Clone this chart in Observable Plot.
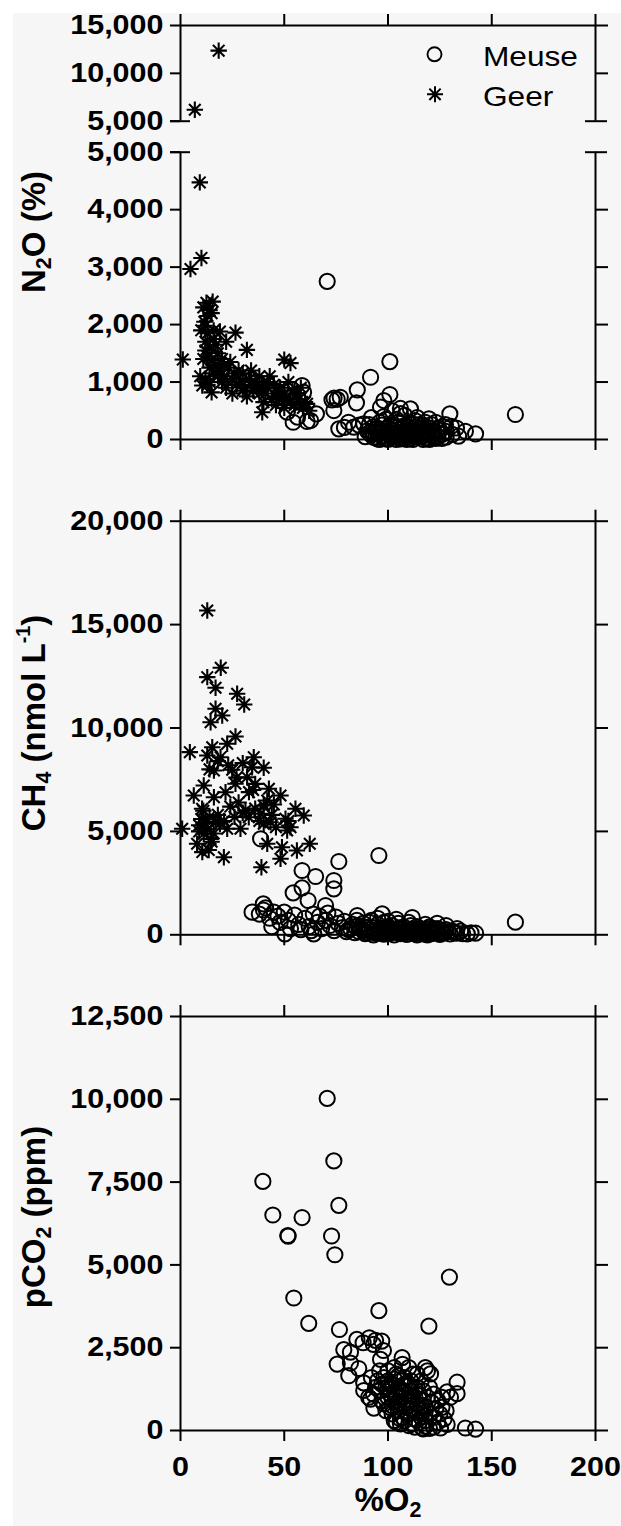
<!DOCTYPE html>
<html><head><meta charset="utf-8">
<script src="https://cdn.jsdelivr.net/npm/d3@7"></script>
<script src="https://cdn.jsdelivr.net/npm/@observablehq/plot@0.6"></script>
<style>
body{margin:0;background:#fff;}
#root{position:relative;width:621px;height:1526px;overflow:hidden;background:#fff;font-family:"Liberation Sans",Arial,sans-serif;color:#000;}
#bg{position:absolute;left:13px;top:13px;right:0;bottom:0;background:#f6f6f6;}
.panel{position:absolute;left:0;}
.title{position:absolute;font-weight:bold;font-size:33px;white-space:nowrap;line-height:1;}
.rot{transform:translate(-50%,-50%) rotate(-90deg);}
.hor{transform:translate(-50%,-50%);}
.sub{font-size:0.65em;position:relative;top:0.3em;}
.sup{font-size:0.6em;position:relative;top:-0.75em;}
.leg{position:absolute;font-size:28px;white-space:nowrap;transform-origin:0 0;transform:scaleX(1.13);line-height:1;}
</style>
</head><body>
<div id="root"><div id="bg"></div></div>
<script>
// ---------- data (x = %O2) ----------
const xTicks = [0, 50, 100, 150, 200];
const n2oTicksHigh = [5000, 10000, 15000];
const n2oTicksLow = [0, 1000, 2000, 3000, 4000, 5000];
const ch4Ticks = [0, 5000, 10000, 15000, 20000];
const co2Ticks = [0, 2500, 5000, 7500, 10000, 12500];
const legendLabels = ["Meuse", "Geer"];

const n2oGeerHigh = [[18.4,12370],[6.9,6190]];
const n2oGeer = [[9.3,4474],[4.8,2968],[10.1,3160],[1.1,1391],
[11,2300],[12.5,2380],[14,2250],[15.5,2400],[13,2150],[11.5,2050],[15,2200],[12,1980],
[26.5,1860],[32,1560],[50,1390],[53,1330],[39.4,475],[61,620],
[10,1900],[13,1850],[16,1900],[19,1880],[22,1700],[12,1700],[14,1600],[17,1650],[11,1400],[13,1450],[15,1380],[18,1500],[20,1400],
[9.5,1100],[12,1050],[14,1000],[16,1150],[19,1200],[21,1100],[23,1250],[10.5,940],[15,820],[13,950],[25,1050],[27,950],[29,1000],
[31,900],[33,1050],[35,850],[37,950],[39,900],[41,800],[43,1100],[45,950],[47,850],[49,750],[51,700],[53,650],[55,600],[57,700],
[59,550],[30,1150],[34,1200],[38,1100],[42,1000],[44,700],[46,600],[48,900],[52,1000],[56,800],[60,650],[24,1350],[28,1200],
[36,1000],[40,650],[50,550],[54,850],[62,500],[58,900],[25,800],[32,750],[20,1000],[17,1300],[22,900],
[14,1250],[18,1100],[21,1300],[26,1150],[30,850],[34,950],[38,800],[42,900],[46,750],[50,800],[16,1750],[12,1550]];
const n2oMeuse = [[70.7,2753],[100.9,1356],[91.6,1083],[85.2,864],[100.9,783],[84.8,638],[98,678],[96.4,562],[74,720],[75.5,700],
[77,735],[73,690],[73.9,504],[58.6,939],[59.3,823],[65.5,447],[54.3,300],[61,313],[51.4,475],[56.4,388],[62.7,330],[129.8,447],
[161.4,435],[142.2,99],[137.3,144],[110.8,534],[106,540],[119.7,360],[127.7,261],[130.5,230],[133,200],[76.3,186],[79,210],
[83.5,214],[86,250],[88.3,273],[81,300],
[90,150],[92,80],[93,220],[94,30],[95,120],[96,300],[97,60],[98,180],[99,20],[100,100],[101,250],[102,40],[103,160],[104,350],
[105,90],[106,10],[107,200],[108,130],[109,60],[110,280],[111,20],[112,150],[113,330],[114,80],[115,180],[116,40],[117,250],
[118,110],[119,20],[120,200],[121,70],[122,140],[123,300],[124,50],[125,160],[126,90],[127,220],[128,40],[92,380],[96,0],[100,0],
[104,0],[108,420],[112,0],[98,400],[114,380],[118,300],[106,450],[102,500],[120,0],[124,120],[89,50],[91,260],[103,60],[107,30],
[111,100],[115,260],[119,150],[123,20],[110,170],[105,220],[97,140],[93,100],[95,10],[99,350],[116,120],[113,50],[109,0],[117,0],
[121,260],[126,20],[131,90],[134,60],[128,140],
[94,180],[96,100],[98,60],[100,200],[101,130],[102,80],[103,230],[104,110],[105,30],[106,170],[107,90],[108,240],[109,150],
[110,60],[111,190],[112,90],[113,210],[114,140],[115,70],[116,200],[117,110],[118,30],[119,80],[120,120],[122,40],[124,200],
[99,120],[97,250],[95,200],[93,40],[91,120],[105,300],[108,20],[112,270]];

const ch4Geer = [[12.9,15683],[19.4,12912],[12.9,12458],[16.9,11945],[27.3,11655],[30.7,11137],[16.9,10930],[20.1,10605],[14.5,10281],
[4.5,8831],[26.5,9590],[15.3,9072],[22.5,9237],[12.9,8671],[19.3,8589],[35.3,8589],[34.5,8105],[40.1,8076],[16.1,7946],[24.9,7979],
[32.1,7622],[26.5,7302],[21.7,6896],[11.2,7220],[6.4,6736],[16.1,6654],[42.6,7061],[48.2,6736],[41.8,6495],[40.1,6253],[10.4,6093],
[10,5600],[12,5400],[14,5700],[17,5450],[19,5370],[31.3,6011],[55.4,6093],[59.4,5769],[50.6,5609],[53,5203],[0.8,5126],[22.5,5126],
[28.9,5126],[32.9,5687],[38.6,5851],[40.1,5368],[43.4,5445],[51.4,5044],[8,4400],[10.5,4000],[13.6,4100],[11.2,4884],[14.5,4640],
[20.9,3753],[41.8,4401],[48.9,4236],[56.1,4077],[62.3,4401],[48.2,3675],[39,3269],
[9,5000],[13,5100],[15,4500],[18,5800],[24,6200],[28,6400],[30,5900],[36,6100],[38,5500],[44,5800],[46,5200],[35,7000],[33,6900],
[27,7600],[23,8200],[18,8400],[14,8000],[11,6000],[9,5300],[16,4900],[21,5500],[26,5700],[45,6300],[52,5500],[30,8300],[36,7300]];
const ch4Meuse = [[95.6,3835],[76.3,3545],[58.6,3110],[65.1,2819],[73.9,2626],[73.9,2224],[54.3,2031],[58.6,2273],[61.5,1659],
[69.9,1417],[34.5,1093],[39.9,1499],[38,1000],[41,1300],[43,800],[45,1100],[40,1200],[50.3,48],[64.2,48],[161.4,609],[142.2,77],
[138.2,48],[111.7,837],[97.2,1015],[85.2,933],[123.7,550],[128,450],[133.3,300],[38.6,4643],
[47,900],[50,1100],[52,700],[55,950],[57,500],[60,800],[62,400],[64,1000],[66,600],[68,300],[70,700],[72,450],[74,200],[76,550],
[78,350],[80,150],[48,600],[53,300],[58,250],[63,200],[67,900],[71,1050],[75,850],[79,650],[44,400],
[82,300],[84,100],[86,450],[88,200],[89,50],[90,350],[91,600],[92,150],[93,0],[94,250],[95,500],[96,80],[97,300],[98,30],[99,180],
[100,400],[101,100],[102,250],[103,0],[104,150],[105,550],[106,60],[107,300],[108,120],[109,20],[110,200],[111,450],[112,80],
[113,150],[114,0],[115,300],[116,100],[117,40],[118,220],[119,0],[120,150],[121,60],[122,300],[124,100],[125,20],[126,200],
[127,80],[129,150],[130,40],[132,100],[135,180],[136,60],[140,100],[85,700],[95,800],[100,650],[104,750],[110,600],[118,500],
[92,700],[88,550],[102,450],[106,350],[114,400],[120,380],[98,600],[83,500],
[86,150],[87,300],[90,100],[91,250],[93,350],[94,80],[96,200],[97,120],[99,280],[100,50],[101,300],[102,120],[103,200],[105,100],
[106,250],[107,150],[108,350],[109,180],[110,50],[111,250],[112,300],[113,60],[114,200],[115,120],[116,250],[117,150],[118,60],
[119,300],[120,80],[121,200],[122,120],[123,250],[124,300],[126,100],[128,250],[131,180],[133,80],[81,250],[84,400],[88,400]];

const co2Meuse = [[70.7,10026],[73.9,8139],[39.7,7520],[76.3,6799],[44.5,6506],[58.6,6430],[51.7,5887],[51.9,5870],[72.8,5872],
[74.4,5307],[129.6,4631],[54.6,4000],[61.8,3236],[95.6,3617],[119.7,3149],[76.6,3049],
[85,2750],[91,2800],[94,2720],[97,2700],[88,2650],[93,2600],
[78.7,2440],[81.9,2364],[75.5,2005],[81.9,2037],[81.1,1654],[85.9,1872],[88.3,1437],[106.8,2201],[96.4,2147],[97.8,2415],
[118,1900],[120.5,1709],[133.3,1458],[133.3,1111],[128.5,1165],[130.1,1005],[137.3,75],[142.2,42],[125.3,75],[116.5,75],
[118,130],[128.5,181],[91.6,948],[93.2,676],[98,800],[88.3,1208],[90.7,1005],[106,347],[104,250],[108,300],[112,200],[120,60],
[122,100],
[95,1500],[96,1200],[97,900],[98,1600],[99,1300],[100,1000],[100,1800],[101,700],[102,1400],[102,500],[103,1100],[104,1700],
[104,800],[105,1300],[105,600],[106,1000],[106,1500],[107,400],[107,1200],[108,900],[108,1600],[109,700],[109,1100],[110,1400],
[110,500],[111,900],[111,1200],[112,1700],[112,650],[113,1000],[113,350],[114,1300],[114,800],[115,600],[115,1100],[116,1500],
[116,400],[117,900],[117,1200],[118,700],[118,300],[119,1000],[119,1800],[120,500],[120,1300],[121,850],[122,1100],[122,400],
[123,650],[124,900],[124,250],[125,500],[126,700],[126,1000],[127,350],[128,600],[100,1500],[103,1900],[107,2000],[110,1900],
[114,1700],[101,1100],[99,600],[97,1400],[96,1800],[94,1300],[93,1100],[92,1600],[103,300],[106,200],[110,150],[115,250],
[113,100],[117,50],
[101,1250],[102,950],[103,1550],[104,1050],[105,850],[106,1250],[107,750],[108,1150],[109,1350],[110,850],[111,650],
[112,1050],[113,1250],[114,550],[115,950],[116,750],[105,1650],[108,1400],[111,1500],[102,750],[100,1300],[117,600]];

// ---------- rendering ----------
const root = document.getElementById("root");
const fmt = d3.format(",");
const SW = 2;
const star = {draw(ctx, size){ const r = Math.sqrt(size/Math.PI), d = r*Math.SQRT1_2;
  ctx.moveTo(0,-r);ctx.lineTo(0,r);ctx.moveTo(-r,0);ctx.lineTo(r,0);
  ctx.moveTo(-d,-d);ctx.lineTo(d,d);ctx.moveTo(-d,d);ctx.lineTo(d,-d);} };
const meuseDot = (data) => Plot.dot(data, {x: d=>d[0], y: d=>d[1], r: 7.6, stroke: "#000", strokeWidth: 2, fill: "none"});
const geerDot = (data) => Plot.dot(data, {x: d=>d[0], y: d=>d[1], r: 8.2, symbol: star, stroke: "#000", strokeWidth: 2.1, fill: "none"});
const blank = () => "";
const yLeft = (ticks) => Plot.axisY(ticks, {anchor: "left", tickSize: 10, tickPadding: 7, strokeWidth: SW, tickFormat: fmt, fontSize: 27, fontWeight: "bold", label: null});
const yRight = (ticks) => Plot.axisY(ticks, {anchor: "right", tickSize: 12, strokeWidth: SW, tickFormat: blank, label: null});
const xTop = () => Plot.axisX(xTicks, {anchor: "top", tickSize: 12, strokeWidth: SW, tickFormat: blank, label: null});
const xBottom = (labels) => Plot.axisX(xTicks, {anchor: "bottom", tickSize: 11, tickPadding: 15, strokeWidth: SW, tickFormat: labels ? (d=>String(d)) : blank, fontSize: 27, fontWeight: "bold", label: null});

function stretch(svg, k){
  svg.querySelectorAll('g[aria-label$="tick label"] text').forEach(t => {
    const tr = t.getAttribute("transform");
    if (tr) t.setAttribute("transform", tr + ` scale(${k},1)`);
    else { const x = +t.getAttribute("x")||0, y = +t.getAttribute("y")||0;
      t.setAttribute("transform", `translate(${x},${y}) scale(${k},1) translate(${-x},${-y})`); }
  });
}
function place(top, opts){
  const svg = Plot.plot({width: 621, marginLeft: 180, marginRight: 26,
    x: {domain: [0, 200], axis: null}, style: {background: "transparent", overflow: "visible", fontFamily: '"Liberation Sans", Arial, sans-serif', color: "#000"},
    ...opts});
  stretch(svg, 1.13);
  const div = document.createElement("div");
  div.className = "panel"; div.style.top = top + "px";
  div.appendChild(svg); root.appendChild(div);
}

// Panel 1a: N2O upper (broken) part
place(0, {height: 140, marginTop: 25, marginBottom: 19.3,
  y: {domain: [5000, 15000], axis: null},
  marks: [
    Plot.ruleY([15000], {strokeWidth: SW}),
    Plot.ruleX([0, 200], {strokeWidth: SW}),
    xTop(), yLeft(n2oTicksHigh), yRight([10000, 15000]),
    Plot.ruleY([5000], {x1: 0, x2: 0, insetLeft: -10, insetRight: -10, strokeWidth: SW}),
    Plot.ruleY([5000], {x1: 200, x2: 200, insetLeft: -10, insetRight: -12, strokeWidth: SW}),
    geerDot(n2oGeerHigh)
  ]});
// Panel 1b: N2O lower part
place(130, {height: 330, marginTop: 21.7, marginBottom: 21,
  y: {domain: [0, 5000], axis: null},
  marks: [
    Plot.ruleY([0], {strokeWidth: SW}),
    Plot.ruleX([0, 200], {strokeWidth: SW}),
    xBottom(false), yLeft(n2oTicksLow), yRight(n2oTicksLow.slice(0, 5)),
    Plot.ruleY([5000], {x1: 0, x2: 0, insetLeft: -10, insetRight: -10, strokeWidth: SW}),
    Plot.ruleY([5000], {x1: 200, x2: 200, insetLeft: -10, insetRight: -12, strokeWidth: SW}),
    meuseDot(n2oMeuse), geerDot(n2oGeer)
  ]});
// Panel 2: CH4
place(495, {height: 460, marginTop: 25.7, marginBottom: 20.7,
  y: {domain: [0, 20000], axis: null},
  marks: [
    Plot.frame({strokeWidth: SW}),
    xTop(), xBottom(false), yLeft(ch4Ticks), yRight(ch4Ticks),
    meuseDot(ch4Meuse), geerDot(ch4Geer)
  ]});
// Panel 3: pCO2
place(990, {height: 536, marginTop: 26, marginBottom: 96,
  y: {domain: [0, 12500], axis: null},
  marks: [
    Plot.frame({strokeWidth: SW}),
    xTop(), xBottom(true), yLeft(co2Ticks), yRight(co2Ticks),
    meuseDot(co2Meuse)
  ]});

// axis titles
function title(html, x, y, rot){
  const d = document.createElement("div");
  d.className = "title " + (rot ? "rot" : "hor");
  d.style.left = x + "px"; d.style.top = y + "px"; d.innerHTML = html;
  root.appendChild(d);
}
title('N<span class="sub">2</span>O (%)', 33, 232, true);
title('CH<span class="sub">4</span> (nmol L<span class="sup">-1</span>)', 33, 723, true);
title('pCO<span class="sub">2</span> (ppm)', 33, 1217, true);
title('%O<span class="sub">2</span>', 388, 1499, false);

// legend
const ns = "http://www.w3.org/2000/svg";
const lg = document.createElementNS(ns, "svg");
lg.setAttribute("width", 621); lg.setAttribute("height", 140);
lg.style.position = "absolute"; lg.style.left = "0"; lg.style.top = "0";
const c = document.createElementNS(ns, "circle");
c.setAttribute("cx", 434.5); c.setAttribute("cy", 54.3); c.setAttribute("r", 7); 
c.setAttribute("fill", "none"); c.setAttribute("stroke", "#000"); c.setAttribute("stroke-width", 1.9);
lg.appendChild(c);
const p = document.createElementNS(ns, "path");
const sp = d3.path(); star.draw(sp, Math.PI*64);
p.setAttribute("d", sp.toString()); p.setAttribute("transform", "translate(435,94.3)");
p.setAttribute("fill", "none"); p.setAttribute("stroke", "#000"); p.setAttribute("stroke-width", 2);
lg.appendChild(p);
root.appendChild(lg);
legendLabels.forEach((t, i) => {
  const d = document.createElement("div");
  d.className = "leg"; d.textContent = t;
  d.style.left = "483px"; d.style.top = (43 + i*40) + "px";
  root.appendChild(d);
});
</script>
</body></html>
